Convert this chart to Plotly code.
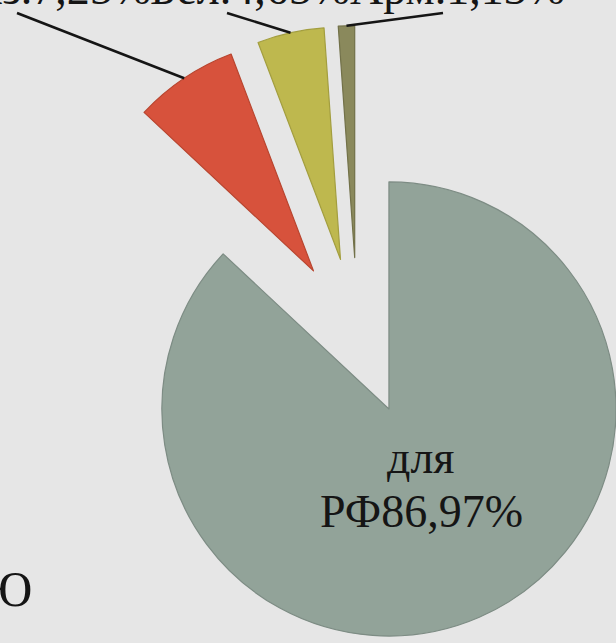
import math
import plotly.graph_objects as go

# ---- data ----
labels = ["для РФ", "Каз.", "Бел.", "Арм."]
values = [86.97, 7.25, 4.65, 1.13]
colors = ["#92a399", "#d7523c", "#beb84e", "#8a895c"]
edge_colors = ["#7d8c84", "#b8452f", "#a39e3f", "#727149"]

# ---- geometry (pixels) ----
W, H = 616, 643
CX, CY = 357.5, 336.5      # pie centre before pulling
R = 232                    # radius
PULL = 79                  # pull distance of every slice


def fmt(v):
    return f"{v:.2f}".replace(".", ",") + "%"


total = sum(values)
mids = []
cum = 0.0
for v in values:
    a0 = cum / total * 360
    cum += v
    a1 = cum / total * 360
    mids.append((a0 + a1) / 2)


def unit(deg):
    t = math.radians(deg)
    return math.sin(t), -math.cos(t)


def clamp(x):
    return max(0.0, min(1.0, round(x, 6)))


fig = go.Figure()
vertices = []
radii = []
for i, m in enumerate(mids):
    ux, uy = unit(m)
    vx, vy = CX + PULL * ux, CY + PULL * uy
    r = min(R, vx, W - vx, vy, H - vy)
    vertices.append((vx, vy))
    radii.append(r)
    mc = ["rgba(0,0,0,0)"] * len(values)
    lc = ["rgba(0,0,0,0)"] * len(values)
    mc[i] = colors[i]
    lc[i] = edge_colors[i]
    fig.add_trace(go.Pie(
        labels=labels, values=values, sort=False, direction="clockwise",
        rotation=0, textinfo="none", hoverinfo="skip", showlegend=False,
        marker=dict(colors=mc, line=dict(color=lc, width=1.2)),
        domain=dict(x=[clamp((vx - r) / W), clamp((vx + r) / W)],
                    y=[clamp(1 - (vy + r) / H), clamp(1 - (vy - r) / H)]),
    ))

serif = "Liberation Serif, Times New Roman, serif"
txt = "#151515"
FS = 46


def px(x):
    return x / W


def py(y):
    return 1 - y / H


ann = []
# main label inside the big slice
first, second = labels[0].split(" ")
ann.append(dict(x=px(421), y=py(457.5), text=first))
ann.append(dict(x=px(421), y=py(511.5), text=second + fmt(values[0])))
# top labels (partly cut by the top edge, as in the source slide)
top_right_edges = [153, 352, 567]
for lab, v, xr in zip(labels[1:], values[1:], top_right_edges):
    ann.append(dict(x=px(xr), y=py(-11.5), text=lab + fmt(v), xanchor="right"))
# cut-off slide text at bottom-left
ann.append(dict(x=px(34), y=py(589), text="Ю", xanchor="right", size=50))

annotations = []
for a in ann:
    annotations.append(dict(
        x=a["x"], y=a["y"], xref="paper", yref="paper", text=a["text"],
        showarrow=False, xanchor=a.get("xanchor", "center"), yanchor="middle",
        font=dict(family=serif, size=a.get("size", FS), color=txt)))

# leader lines from slice arc midpoints to labels
label_points = [(17, 13), (227, 13), (443, 13)]
shapes = []
for i, (lx, ly) in zip(range(1, 4), label_points):
    vx, vy = vertices[i]
    ux, uy = unit(mids[i])
    ex, ey = vx + radii[i] * ux, vy + radii[i] * uy
    shapes.append(dict(type="line", xref="paper", yref="paper",
                       x0=px(lx), y0=py(ly), x1=px(ex), y1=py(ey),
                       line=dict(color="#151515", width=2.5)))

fig.update_layout(
    width=W, height=H, margin=dict(l=0, r=0, t=0, b=0),
    paper_bgcolor="#e6e6e6", plot_bgcolor="#e6e6e6",
    annotations=annotations, shapes=shapes,
)

fig.write_html(
    "out.html",
    config={"displayModeBar": False},
    post_script=("document.body.style.margin='0';"
                 "document.body.style.overflow='hidden';"
                 "document.documentElement.style.overflow='hidden';"),
)
